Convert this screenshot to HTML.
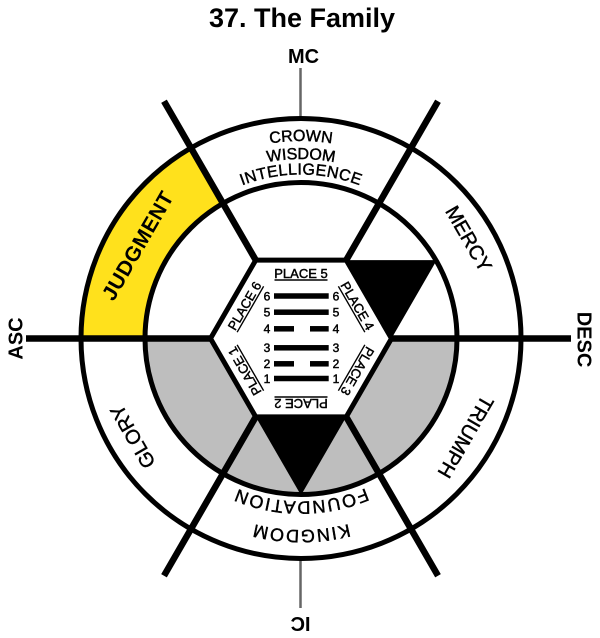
<!DOCTYPE html>
<html>
<head>
<meta charset="utf-8">
<style>
  html,body{margin:0;padding:0;background:#fff;}
  svg{display:block;}
  text{font-family:"Liberation Sans", Arial, sans-serif;fill:#000;}
  .th{stroke:#000;stroke-width:0.45px;}
</style>
</head>
<body>
<svg width="600" height="638" viewBox="0 0 600 638" xmlns="http://www.w3.org/2000/svg">
  <defs>
    <path id="aCrown" d="M 103.5 338.5 A 197.5 197.5 0 0 1 498.5 338.5"/>
    <path id="aWisdom" d="M 121.5 338.5 A 179.5 179.5 0 0 1 480.5 338.5"/>
    <path id="aIntel" d="M 137 338.5 A 164 164 0 0 1 465 338.5"/>
    <path id="aFound" d="M 464 338.5 A 163 163 0 0 1 138 338.5"/>
    <path id="aKing" d="M 492.5 338.5 A 191.5 191.5 0 0 1 109.5 338.5"/>
  </defs>

  <rect x="0" y="0" width="600" height="638" fill="#fff"/>

  <!-- Title -->
  <text x="302" y="27" font-size="27" font-weight="bold" text-anchor="middle">37. The Family</text>

  <!-- MC / IC lines -->
  <line x1="300.5" y1="68" x2="300.5" y2="118" stroke="#666" stroke-width="2.5"/>
  <line x1="300.5" y1="559" x2="300.5" y2="608" stroke="#666" stroke-width="2.5"/>
  <text x="303.5" y="63" font-size="20" font-weight="bold" text-anchor="middle">MC</text>
  <text transform="translate(300.5,617) rotate(180)" font-size="20" font-weight="bold" text-anchor="middle">IC</text>
  <text transform="translate(22.5,338.5) rotate(-90)" font-size="20" font-weight="bold" text-anchor="middle">ASC</text>
  <text transform="translate(577.5,339.5) rotate(90)" font-size="20" font-weight="bold" text-anchor="middle">DESC</text>

  <!-- Yellow sector -->
  <path d="M 81 338.5 A 220 220 0 0 1 191 147.97 L 223 203.4 A 156 156 0 0 0 145 338.5 Z" fill="#FFE11C"/>

  <!-- Gray lower half of inner disk -->
  <path d="M 145 338.5 A 156 156 0 0 0 457 338.5 Z" fill="#BEBEBE"/>

  <!-- Hexagon fill -->
  <polygon points="391.5,338.5 346.25,416.88 255.75,416.88 210.5,338.5 255.75,260.12 346.25,260.12" fill="#fff"/>

  <!-- Black triangles -->
  <polygon points="346.25,260.12 436.75,260.12 391.5,338.5" fill="#000"/>
  <polygon points="255.75,416.88 346.25,416.88 301,495.25" fill="#000"/>

  <!-- Circles -->
  <circle cx="301" cy="338.5" r="220" fill="none" stroke="#000" stroke-width="5"/>
  <circle cx="301" cy="338.5" r="156" fill="none" stroke="#000" stroke-width="5"/>

  <!-- Hexagon stroke -->
  <polygon points="391.5,338.5 346.25,416.88 255.75,416.88 210.5,338.5 255.75,260.12 346.25,260.12" fill="none" stroke="#000" stroke-width="5" stroke-linejoin="miter"/>

  <!-- Spokes -->
  <g stroke="#000" stroke-width="6.5">
    <line x1="26" y1="338.5" x2="210.5" y2="338.5"/>
    <line x1="391.5" y1="338.5" x2="571" y2="338.5"/>
    <line x1="255.75" y1="260.12" x2="164" y2="101.2"/>
    <line x1="346.25" y1="260.12" x2="438" y2="101.2"/>
    <line x1="346.25" y1="416.88" x2="438" y2="575.8"/>
    <line x1="255.75" y1="416.88" x2="164" y2="575.8"/>
  </g>

  <!-- Hexagram -->
  <g fill="#000">
    <rect x="274" y="293.25" width="54.7" height="5.5"/>
    <rect x="274" y="309.45" width="54.7" height="5.5"/>
    <rect x="274" y="326.05" width="20" height="5.5"/>
    <rect x="310" y="326.05" width="18.7" height="5.5"/>
    <rect x="274" y="345.05" width="54.7" height="5.5"/>
    <rect x="274" y="361.05" width="20" height="5.5"/>
    <rect x="310" y="361.05" width="18.7" height="5.5"/>
    <rect x="274" y="375.75" width="54.7" height="5.5"/>
  </g>
  <g font-size="12" text-anchor="middle" class="th">
    <text x="267" y="300.3">6</text><text x="336" y="300.3">6</text>
    <text x="267" y="316.5">5</text><text x="336" y="316.5">5</text>
    <text x="267" y="333.1">4</text><text x="336" y="333.1">4</text>
    <text x="267" y="352.1">3</text><text x="336" y="352.1">3</text>
    <text x="267" y="368.1">2</text><text x="336" y="368.1">2</text>
    <text x="267" y="382.8">1</text><text x="336" y="382.8">1</text>
  </g>

  <!-- PLACE labels -->
  <g font-size="13" text-anchor="middle">
    <g transform="translate(301,273.1)">
      <text x="0" y="4.7" class="th">PLACE 5</text>
      <line x1="-26.5" y1="6.9" x2="26.5" y2="6.9" stroke="#000" stroke-width="1.4"/>
    </g>
    <g transform="translate(357.6,305.8) rotate(60)">
      <text x="0" y="4.7" class="th">PLACE 4</text>
      <line x1="-26.5" y1="6.9" x2="26.5" y2="6.9" stroke="#000" stroke-width="1.4"/>
    </g>
    <g transform="translate(357.6,371.2) rotate(120)">
      <text x="0" y="4.7" class="th">PLACE 3</text>
      <line x1="-26.5" y1="6.9" x2="26.5" y2="6.9" stroke="#000" stroke-width="1.4"/>
    </g>
    <g transform="translate(301,403.9) rotate(180)">
      <text x="0" y="4.7" class="th">PLACE 2</text>
      <line x1="-26.5" y1="6.9" x2="26.5" y2="6.9" stroke="#000" stroke-width="1.4"/>
    </g>
    <g transform="translate(244.4,371.2) rotate(240)">
      <text x="0" y="4.7" class="th">PLACE 1</text>
      <line x1="-26.5" y1="6.9" x2="26.5" y2="6.9" stroke="#000" stroke-width="1.4"/>
    </g>
    <g transform="translate(244.4,305.8) rotate(300)">
      <text x="0" y="4.7" class="th">PLACE 6</text>
      <line x1="-26.5" y1="6.9" x2="26.5" y2="6.9" stroke="#000" stroke-width="1.4"/>
    </g>
  </g>

  <!-- Top curved text -->
  <g font-size="16" text-anchor="middle" class="th">
    <text><textPath href="#aCrown" startOffset="50%">CROWN</textPath></text>
    <text><textPath href="#aWisdom" startOffset="50%">WISDOM</textPath></text>
    <text letter-spacing="0.4"><textPath href="#aIntel" startOffset="50%">INTELLIGENCE</textPath></text>
  </g>

  <!-- Bottom curved text (upside down) -->
  <g font-size="18" text-anchor="middle" letter-spacing="1.5" class="th">
    <text><textPath href="#aFound" startOffset="50%">FOUNDATION</textPath></text>
    <text><textPath href="#aKing" startOffset="50%">KINGDOM</textPath></text>
  </g>

  <!-- Side labels -->
  <text transform="translate(137.5,245.5) rotate(-60)" y="7.5" font-size="21" font-weight="bold" text-anchor="middle" letter-spacing="0.5">JUDGMENT</text>
  <text transform="translate(469,238.5) rotate(60)" y="7.2" font-size="20" text-anchor="middle" class="th">MERCY</text>
  <text transform="translate(466,437) rotate(120)" y="7.2" font-size="20" text-anchor="middle" class="th">TRIUMPH</text>
  <text transform="translate(132.5,436.7) rotate(-120)" y="7.2" font-size="20" text-anchor="middle" class="th">GLORY</text>
</svg>
</body>
</html>
